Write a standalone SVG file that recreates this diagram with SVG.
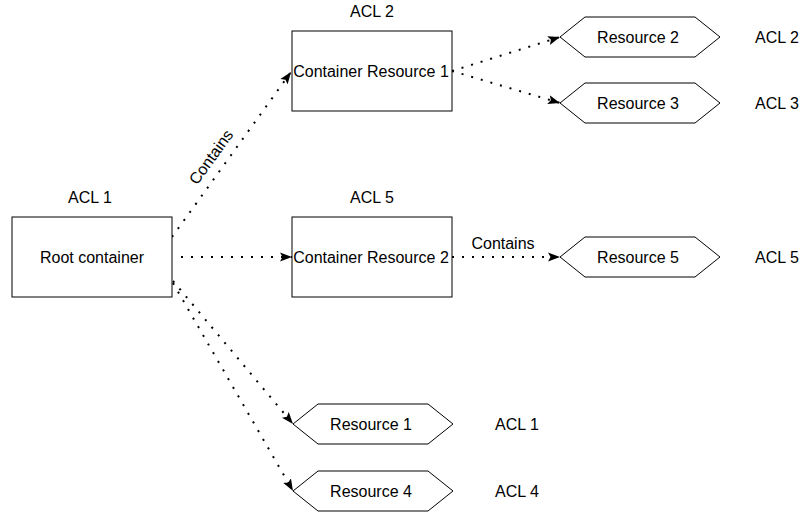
<svg xmlns="http://www.w3.org/2000/svg" width="810" height="519" viewBox="0 0 810 519">
  <style>
    .box { fill: #ffffff; stroke: #000000; stroke-width: 1; }
    .hex { fill: #ffffff; stroke: #000000; stroke-width: 1; }
    .lbl { font-family: "Liberation Sans", Arial, Helvetica, sans-serif; font-size: 16px; fill: #000000; text-anchor: middle; dominant-baseline: central; }
    .edge { fill: none; stroke: #000000; stroke-width: 2; stroke-dasharray: 2 8; }
  </style>
  <defs>
    <marker id="arrow" viewBox="0 0 12 10" refX="12" refY="5" markerWidth="12" markerHeight="10" markerUnits="userSpaceOnUse" orient="auto">
      <path d="M0,0.5 L12,5 L0,9.5 L2.5,5 Z" fill="#000000"/>
    </marker>
  </defs>
  <rect width="810" height="519" fill="#ffffff"/>

  <!-- connectors -->
  <g id="connectors">
    <path class="edge" d="M172,237 L291,72" marker-end="url(#arrow)"/>
    <path class="edge" d="M181,257 L292,257" marker-end="url(#arrow)"/>
    <path class="edge" d="M173,281 L293,424" marker-end="url(#arrow)"/>
    <path class="edge" d="M173,283 L293,491" marker-end="url(#arrow)"/>
    <path class="edge" d="M452,71 L560,37" marker-end="url(#arrow)"/>
    <path class="edge" d="M452,71 L560,103" marker-end="url(#arrow)"/>
    <path class="edge" d="M452,257 L560,257" marker-end="url(#arrow)"/>
    <text class="lbl" transform="translate(211,157) rotate(-54)">Contains</text>
    <text class="lbl" x="503" y="243">Contains</text>
  </g>

  <!-- containers -->
  <g id="root-container">
    <rect class="box" x="12" y="217" width="160" height="80"/>
    <text class="lbl" x="92" y="257">Root container</text>
    <text class="lbl" x="90" y="197">ACL 1</text>
  </g>
  <g id="container-resource-1">
    <rect class="box" x="292" y="31" width="160" height="80"/>
    <text class="lbl" x="371" y="71">Container Resource 1</text>
    <text class="lbl" x="372" y="11">ACL 2</text>
  </g>
  <g id="container-resource-2">
    <rect class="box" x="292" y="217" width="160" height="80"/>
    <text class="lbl" x="371" y="257">Container Resource 2</text>
    <text class="lbl" x="372" y="197">ACL 5</text>
  </g>

  <!-- resources -->
  <g id="resource-2">
    <polygon class="hex" points="560,37 585,17 695,17 720,37 695,57 585,57"/>
    <text class="lbl" x="638" y="37">Resource 2</text>
    <text class="lbl" x="777" y="37">ACL 2</text>
  </g>
  <g id="resource-3">
    <polygon class="hex" points="560,103 585,83 695,83 720,103 695,123 585,123"/>
    <text class="lbl" x="638" y="103">Resource 3</text>
    <text class="lbl" x="777" y="103">ACL 3</text>
  </g>
  <g id="resource-5">
    <polygon class="hex" points="560,257 585,237 695,237 720,257 695,277 585,277"/>
    <text class="lbl" x="638" y="257">Resource 5</text>
    <text class="lbl" x="777" y="257">ACL 5</text>
  </g>
  <g id="resource-1">
    <polygon class="hex" points="293,424 318,404 428,404 453,424 428,444 318,444"/>
    <text class="lbl" x="371" y="424">Resource 1</text>
    <text class="lbl" x="517" y="424">ACL 1</text>
  </g>
  <g id="resource-4">
    <polygon class="hex" points="293,491 318,471 428,471 453,491 428,511 318,511"/>
    <text class="lbl" x="371" y="491">Resource 4</text>
    <text class="lbl" x="517" y="491">ACL 4</text>
  </g>
</svg>
